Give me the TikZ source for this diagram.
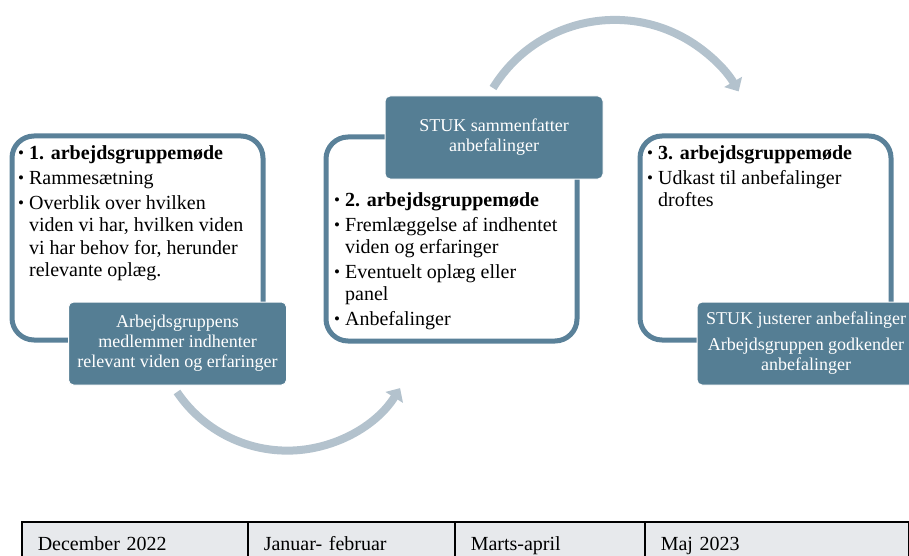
\documentclass[tikz,border=0pt]{standalone}
\usepackage{fontspec}
\setmainfont{Liberation Serif}
\usetikzlibrary{arrows.meta}
\definecolor{frame}{HTML}{5A8199}
\definecolor{darkfill}{HTML}{557E94}
\definecolor{arrowgray}{HTML}{B3C2CD}
\definecolor{cellgray}{HTML}{E7E9EC}
\newcommand{\itm}{\raisebox{1pt}{\fontsize{17}{17}\selectfont\textbullet}}

\begin{document}
\begin{tikzpicture}[x=1pt,y=-1pt,
	    meeting/.style={draw=frame,line width=5pt,rounded corners=22pt,fill=white,
	                    minimum width=251pt,minimum height=204pt},
	    task/.style={draw=white,line width=1pt,fill=darkfill,rounded corners=5pt,
	                 minimum width=218pt,minimum height=83pt,text=white,align=center,
	                 font=\fontsize{18}{20}\selectfont},
	    points/.style={anchor=base west,inner sep=0pt,font=\fontsize{20}{22}\selectfont},
	    cycle/.style={draw=arrowgray,line width=8pt,-{Triangle[width=20pt,length=11pt]}},
	    cell/.style={draw=black,line width=1.5pt,fill=cellgray,anchor=north west,align=left,
	                 inner xsep=16pt,inner ysep=0pt,text height=29pt,text depth=31pt,
	                 font=\fontsize{20}{22}\selectfont}]
	  \clip (0,0) rectangle (909,556);
	
	  \node[meeting] 		(m1) at (137.5,238) 	{};
	  \node[meeting] 		(m2) at (451.5,239) 	{};
	  \node[meeting] 		(m3) at (765.5,238) 	{};
	
	  \node[points] 		(p1) at (18,160) {\begin{tabular}[t]{@{}l@{\hspace{5pt}}l@{}}
	      \itm & \textbf{1. arbejdsgruppemøde}\\[3pt]
	      \itm & Rammesætning\\[3pt]
	      \itm & Overblik over hvilken\\
	           & viden vi har, hvilken viden\\
	           & vi har behov for, herunder\\
	           & relevante oplæg.
	    \end{tabular}};
	  \node[points] 		(p2) at (334,206) {\begin{tabular}[t]{@{}l@{\hspace{5pt}}l@{}}
	      \itm & \textbf{2. arbejdsgruppemøde}\\[3pt]
	      \itm & Fremlæggelse af indhentet\\
	           & viden og erfaringer\\[3pt]
	      \itm & Eventuelt oplæg eller\\
	           & panel\\[3pt]
	      \itm & Anbefalinger
	    \end{tabular}};
	  \node[points] 		(p3) at (647,160) {\begin{tabular}[t]{@{}l@{\hspace{5pt}}l@{}}
	      \itm & \textbf{3. arbejdsgruppemøde}\\[3pt]
	      \itm & Udkast til anbefalinger\\
	           & droftes
	    \end{tabular}};
	
	  \node[task] 			(t1) at (177.5,343.5) 	{Arbejdsgruppens\\medlemmer indhenter\\relevant viden og erfaringer};
	  \node[task] 			(t2) at (494,137.5) 	{STUK sammenfatter\\anbefalinger};
	  \node[task] 			(t3) at (806,343.5) 	{STUK justerer anbefalinger\\[6pt]Arbejdsgruppen godkender\\anbefalinger};
	
	  \coordinate (a1) at (177,392);
	  \coordinate (a2) at (493,88);
	  \draw[cycle] (a1) arc[start angle=146, end angle=32, radius=133];
	  \draw[cycle] (a2) arc[start angle=211.6, end angle=330, radius=143];
	
	  \node[cell, text width=194pt] 	(c1) at (21,521) 	{December 2022};
	  \node[cell, text width=175pt] 	(c2) at (247,521) 	{Januar- februar};
	  \node[cell, text width=158pt] 	(c3) at (454,521) 	{Marts-april};
	  \node[cell, text width=232pt] 	(c4) at (644,521) 	{Maj 2023};
	\end{tikzpicture}
\end{document}
